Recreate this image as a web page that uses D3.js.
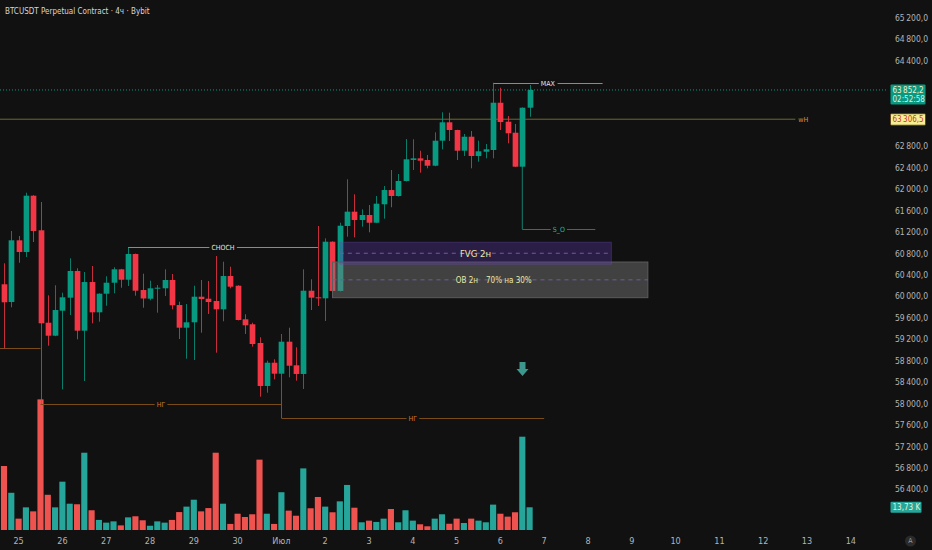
<!DOCTYPE html>
<html>
<head>
<meta charset="utf-8">
<script src="https://cdn.jsdelivr.net/npm/d3@7"></script>
<style>
html, body { margin: 0; padding: 0; background: #111111; }
svg { display: block; font-family: "Liberation Sans Narrow", "DejaVu Sans Condensed", "Roboto", sans-serif; }
</style>
</head>
<body>
<svg id="chart" width="932" height="550"></svg>
<script>
// 4h bars, first visible one = 24 Jun 16:00
var firstBar = Date.UTC(2024, 5, 24, 16);
var barMs = 4 * 3600 * 1000;

var opens = [60228, 59897, 61048, 60830, 61880, 61235, 59511, 59269, 59735, 59978,
    60476, 59362, 60270, 59705, 60052, 60257, 60507, 60313, 60793, 60121,
    59959, 60145, 60153, 60308, 59841, 59418, 59519, 59996, 59959, 59916,
    59761, 60382, 60201, 59575, 59482, 59133, 58331, 58765, 58560, 59157,
    58717, 58555, 60108, 59985, 59966, 61022, 60103, 61315, 61582, 61427,
    61520, 61376, 61720, 61986, 61874, 62154, 62546, 62577, 62546, 62439,
    62906, 63249, 63105, 62719, 62980, 62620, 62700, 62732, 63614, 63260,
    63055, 62421, 63521];
var highs = [60619, 61222, 61128, 61936, 61890, 61762, 60022, 60209, 60071, 60712,
    60526, 60457, 60569, 60060, 60377, 60545, 60515, 60905, 60800, 60425,
    60295, 60214, 60507, 60420, 59903, 59860, 60201, 60308, 60289, 60755,
    60649, 60556, 60210, 59668, 59511, 59239, 58803, 58829, 59301, 59418,
    59053, 60507, 60321, 61315, 61085, 61030, 61376, 62186, 61906, 61626,
    61706, 61874, 62061, 62359, 62285, 62937, 62932, 62719, 62639, 63062,
    63435, 63428, 63110, 63031, 63087, 62906, 62844, 63987, 63894, 63366,
    63217, 63525, 63945];
var lows = [59034, 59799, 60630, 60737, 61016, 57995, 59082, 59260, 58269, 59655,
    59202, 58424, 59500, 59530, 59828, 60060, 60164, 60196, 60015, 59791,
    59929, 59698, 60009, 59761, 59207, 58840, 58816, 59325, 59674, 58952,
    59537, 60153, 59555, 59301, 59064, 58131, 58206, 58456, 57732, 58493,
    58430, 58275, 59748, 59823, 59543, 60090, 60095, 61115, 61104, 61302,
    61197, 61370, 61451, 61664, 61865, 62145, 62359, 62309, 62391, 62430,
    62745, 62900, 62546, 62620, 62391, 62514, 62577, 62577, 63105, 62857,
    62415, 62415, 63353];
var closes = [59892, 61048, 60830, 61880, 61222, 59500, 59269, 59748, 59985, 60476,
    59362, 60270, 59705, 60052, 60257, 60507, 60313, 60793, 60108, 59963,
    60153, 60164, 60308, 59836, 59418, 59519, 59996, 59953, 59897, 59761,
    60382, 60183, 59562, 59463, 59114, 58331, 58765, 58560, 59157, 58709,
    58555, 60108, 59978, 59966, 61022, 60103, 61320, 61582, 61427, 61520,
    61376, 61731, 61986, 61874, 62154, 62559, 62577, 62533, 62439, 62906,
    63249, 63105, 62719, 62980, 62620, 62708, 62745, 63614, 63254, 63044,
    62421, 63521, 63852.2];
// volume, thousands
var volumes = [36.4, 21.7, 7.5, 13.7, 11.5, 73.0, 20.6, 13.7, 27.8, 15.7,
    15.4, 43.7, 12.1, 6.8, 5.3, 6.0, 3.8, 8.2, 8.8, 6.6,
    3.6, 6.0, 5.3, 6.8, 11.1, 14.1, 17.9, 11.5, 13.3, 43.7,
    15.7, 4.6, 10.2, 8.4, 9.9, 39.9, 10.2, 4.6, 22.0, 11.9,
    9.1, 35.1, 13.2, 19.4, 14.1, 11.0, 17.0, 26.0, 13.5, 5.5,
    6.4, 5.7, 7.5, 12.8, 5.5, 12.1, 6.4, 4.4, 3.3, 7.5,
    9.9, 4.7, 7.5, 5.1, 7.5, 6.4, 5.5, 15.2, 10.2, 8.6,
    11.0, 52.5, 13.73];

var dayLabels = ["25", "26", "27", "28", "29", "30", "Июл", "2", "3", "4", "5", "6",
    "7", "8", "9", "10", "11", "12", "13", "14"];
var priceTicks = d3.range(56000, 65201, 400);

var title = "BTCUSDT Perpetual Contract · 4ч · Bybit";
var lastPrice = 63852.2;
var countdown = "02:52:58";
var lastVolume = "13,73 K";
var weekHigh = {to: 108.4, price: 63306.5, label: "wH"};

// drawings (bar index / price)
var lowLevels = [
    {from: -1, to: 5, price: 59034, label: ""},
    {from: 5, to: 38, price: 57995, label: "НГ"},
    {from: 38, to: 74, price: 57732, label: "НГ"}
];
var chochLine = {from: 17, to: 43, price: 60930, label: "CHOCH"};
var maxLine = {from: 67, to: 82, price: 63987, label: "MAX"};
var soLine = {from: 71, to: 81, price: 61253, start: 62415, label: "S_O"};
var fvgZone = {from: 46, to: 83.2, top: 61012, bottom: 60601, label: "FVG 2н"};
var obZone = {from: 45, to: 88.2, top: 60643, bottom: 59978, label: "OB 2н", note: "70% на 30%"};
var arrowMark = {bar: 71, price: 58780};

var green = "#089981", red = "#f23645";
var volGreen = "#26a69a", volRed = "#ef5350";
var plotRight = 888;

var ru = d3.formatLocale({decimal: ",", thousands: "\u2009", grouping: [3], currency: ["", ""]});
var fmt = ru.format(",.1f");

var bars = opens.map(function(o, i) {
    return {i: i, date: new Date(firstBar + i * barMs), open: o, high: highs[i], low: lows[i], close: closes[i], vol: volumes[i]};
});

var x = d3.scaleTime()
    .domain([new Date(firstBar), new Date(firstBar + 116 * barMs)])
    .range([4, 850.8]);
function xi(i) { return x(new Date(firstBar + i * barMs)); }
var step = xi(1) - xi(0);
var bodyW = step * 0.78;

var y = d3.scaleLinear().domain([60000, 64000]).range([296.5, 82.03]);
var yv = d3.scaleLinear().domain([0, 100]).range([532.3, 350.2]);

var svg = d3.select("#chart");
svg.append("rect").attr("width", 932).attr("height", 550).attr("fill", "#111111");

svg.append("defs").append("clipPath").attr("id", "plot")
    .append("rect").attr("x", 0).attr("y", 0).attr("width", plotRight).attr("height", 530);
var plot = svg.append("g").attr("clip-path", "url(#plot)");

// volume
plot.append("g").selectAll("rect").data(bars).enter().append("rect")
    .attr("x", function(d) { return xi(d.i) - step * 0.42; })
    .attr("width", step * 0.84)
    .attr("y", function(d) { return yv(d.vol); })
    .attr("height", function(d) { return yv(0) - yv(d.vol); })
    .attr("fill", function(d) { return d.close >= d.open ? volGreen : volRed; });

// horizontal lines
plot.append("line").attr("x1", 0).attr("x2", xi(weekHigh.to))
    .attr("y1", y(weekHigh.price)).attr("y2", y(weekHigh.price))
    .attr("stroke", "#6e6a2c").attr("stroke-width", 1);
plot.append("text").attr("x", xi(weekHigh.to) + 3).attr("y", y(weekHigh.price))
    .attr("dy", "0.35em").attr("font-size", 7).attr("fill", "#e8893a").text(weekHigh.label);

plot.append("line").attr("x1", 0).attr("x2", plotRight)
    .attr("y1", y(lastPrice)).attr("y2", y(lastPrice))
    .attr("stroke", green).attr("stroke-width", 1).attr("stroke-dasharray", "1,2");

function levelLine(l, color, labelColor) {
    var g = plot.append("g");
    var yy = Math.round(y(l.price)) + 0.5;
    g.append("line").attr("x1", xi(l.from)).attr("x2", xi(l.to))
        .attr("y1", yy).attr("y2", yy).attr("stroke", color).attr("stroke-width", 1);
    if (l.label) {
        var t = g.append("text").attr("x", (xi(l.from) + xi(l.to)) / 2).attr("y", yy)
            .attr("dy", "0.35em").attr("text-anchor", "middle")
            .attr("font-size", 7).attr("fill", labelColor).text(l.label);
        var bb = t.node().getBBox();
        g.insert("rect", "text").attr("x", bb.x - 2).attr("y", bb.y).attr("width", bb.width + 4)
            .attr("height", bb.height).attr("fill", "#111111");
    }
    return g;
}

lowLevels.forEach(function(l) { levelLine(l, "#7a4c1c", "#d07b2a"); });
levelLine(chochLine, "#8a8a8a", "#e6e6e6");
levelLine(maxLine, "#8a8a8a", "#e6e6e6");

plot.append("line").attr("x1", xi(soLine.from)).attr("x2", xi(soLine.from))
    .attr("y1", y(soLine.start)).attr("y2", y(soLine.price)).attr("stroke", "#13806f");
levelLine(soLine, "#13806f", "#26b5a0");

// candles
var candles = plot.append("g").selectAll("g").data(bars).enter().append("g");
candles.append("line")
    .attr("x1", function(d) { return Math.round(xi(d.i)) + 0.5; })
    .attr("x2", function(d) { return Math.round(xi(d.i)) + 0.5; })
    .attr("y1", function(d) { return y(d.high); })
    .attr("y2", function(d) { return y(d.low); })
    .attr("stroke", function(d) { return d.close >= d.open ? green : red; })
    .attr("stroke-opacity", 0.8);
candles.append("rect")
    .attr("x", function(d) { return Math.round(xi(d.i)) + 0.5 - bodyW / 2; })
    .attr("width", bodyW)
    .attr("y", function(d) { return y(Math.max(d.open, d.close)); })
    .attr("height", function(d) { return Math.max(1, Math.abs(y(d.open) - y(d.close))); })
    .attr("fill", function(d) { return d.close >= d.open ? green : red; });

// zones
function zone(z, fill, stroke) {
    var g = plot.append("g");
    var y0 = y(z.top), y1 = y(z.bottom);
    g.append("rect").attr("x", xi(z.from)).attr("y", y0)
        .attr("width", xi(z.to) - xi(z.from)).attr("height", y1 - y0)
        .attr("fill", fill).attr("stroke", stroke).attr("stroke-width", 1);
    g.append("line").attr("x1", xi(z.from)).attr("x2", xi(z.to))
        .attr("y1", (y0 + y1) / 2).attr("y2", (y0 + y1) / 2)
        .attr("stroke", "#6d5ca3").attr("stroke-dasharray", "4,4");
    return g;
}
var ob = zone(obZone, "rgba(125,125,125,0.45)", "#5c5c5c");
var fvg = zone(fvgZone, "rgba(98,58,180,0.33)", "rgba(110,80,180,0.35)");

var fvgMid = (y(fvgZone.top) + y(fvgZone.bottom)) / 2;
fvg.append("text").attr("x", 475.5).attr("y", fvgMid).attr("dy", "0.35em")
    .attr("text-anchor", "middle").attr("font-size", 9.5).attr("fill", "#ece8a6").text(fvgZone.label);
var obMid = (y(obZone.top) + y(obZone.bottom)) / 2;
ob.append("text").attr("x", 478).attr("y", obMid).attr("dy", "0.35em")
    .attr("text-anchor", "end").attr("font-size", 8).attr("fill", "#ece8a6").text(obZone.label);
ob.append("text").attr("x", 486).attr("y", obMid).attr("dy", "0.35em")
    .attr("text-anchor", "start").attr("font-size", 8).attr("fill", "#ece8a6").text(obZone.note);

// arrow
var ax = Math.round(xi(arrowMark.bar)) + 0.5, ay = y(arrowMark.price);
plot.append("path")
    .attr("d", "M" + (ax - 3) + "," + ay + "h6v7h3l-6,7l-6,-7h3z")
    .attr("fill", "#3d978c");

// badges sit on the price scale; ticks hidden under them are skipped
var lp = y(lastPrice), wp = y(weekHigh.price), vp = yv(volumes[volumes.length - 1]);
var badgeSpans = [[lp - 5.5, lp + 14.5], [wp - 5.5, wp + 6], [vp - 5.5, vp + 5.5]];
var visibleTicks = priceTicks.filter(function(d) {
    var yy = y(d);
    return badgeSpans.every(function(s) { return yy + 4 < s[0] || yy - 4 > s[1]; });
});

var axisG = svg.append("g");
axisG.selectAll("text").data(visibleTicks).enter().append("text")
    .attr("x", 895).attr("y", function(d) { return y(d); }).attr("dy", "0.35em")
    .attr("font-size", 8.5).attr("fill", "#b4b4b4").text(function(d) { return fmt(d); });

svg.append("rect").attr("x", 890.5).attr("y", lp - 5.5).attr("width", 35).attr("height", 20)
    .attr("rx", 1).attr("fill", green);
svg.append("text").attr("x", 892.5).attr("y", lp).attr("dy", "0.35em").attr("font-size", 8)
    .attr("fill", "#f1efcf").text(fmt(lastPrice));
svg.append("text").attr("x", 892.5).attr("y", lp + 9).attr("dy", "0.35em").attr("font-size", 8)
    .attr("fill", "#d8f0e6").text(countdown);

svg.append("rect").attr("x", 890.5).attr("y", wp - 5.5).attr("width", 35).attr("height", 11.5)
    .attr("rx", 1).attr("fill", "#f4ef93").attr("stroke", "#5b3a16").attr("stroke-width", 0.8);
svg.append("text").attr("x", 892.5).attr("y", wp).attr("dy", "0.35em").attr("font-size", 8)
    .attr("fill", "#d32f2f").text(fmt(weekHigh.price));

svg.append("rect").attr("x", 890.5).attr("y", vp - 5.5).attr("width", 31).attr("height", 11)
    .attr("rx", 1).attr("fill", volGreen);
svg.append("text").attr("x", 892.5).attr("y", vp).attr("dy", "0.35em").attr("font-size", 8)
    .attr("fill", "#f1efcf").text(lastVolume);

// time axis
svg.append("g").selectAll("text").data(dayLabels).enter().append("text")
    .attr("x", function(d, k) { return xi(2 + 6 * k); })
    .attr("y", 541).attr("dy", "0.35em").attr("text-anchor", "middle")
    .attr("font-size", 9).attr("fill", "#b4b4b4").text(function(d) { return d; });

svg.append("circle").attr("cx", 910.5).attr("cy", 541).attr("r", 5.5).attr("fill", "#2a2a2a");
svg.append("text").attr("x", 910.5).attr("y", 541).attr("dy", "0.35em").attr("text-anchor", "middle")
    .attr("font-size", 7).attr("fill", "#9a9a9a").text("A");

// title
svg.append("text").attr("x", 5).attr("y", 11).attr("dy", "0.35em")
    .attr("font-size", 8).attr("fill", "#d6d6d6").text(title);
</script>
</body>
</html>
